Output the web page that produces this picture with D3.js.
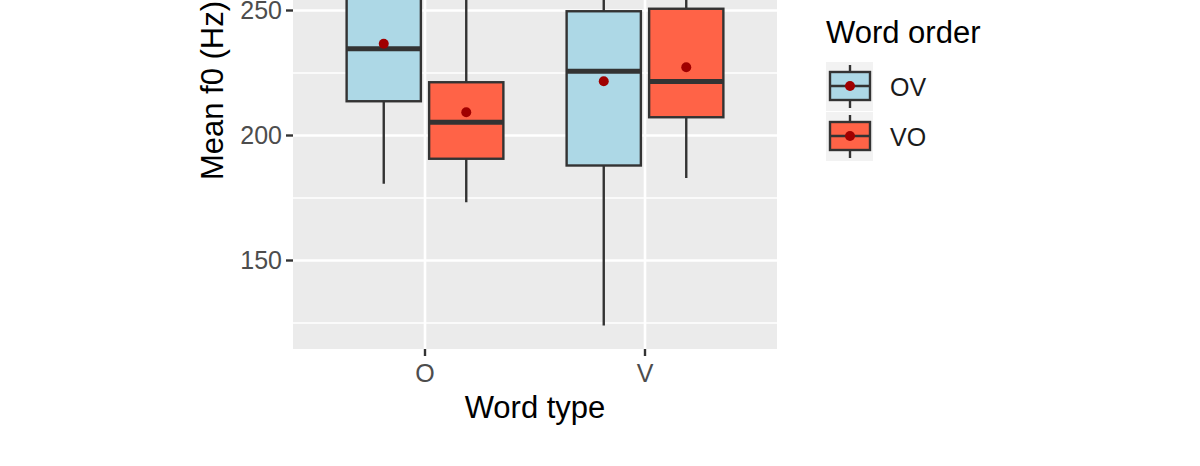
<!DOCTYPE html>
<html>
<head>
<meta charset="utf-8">
<script src="https://cdn.jsdelivr.net/npm/d3@7"></script>
<style>
  body { margin: 0; background: #ffffff; }
  text { font-family: "Liberation Sans", Arial, sans-serif; }
</style>
</head>
<body>
<div id="chart"></div>
<script>
// Data (boxes in order O-OV, O-VO, V-OV, V-VO)
var wordTypes = ["O", "V"];
var wordOrders = ["OV", "VO"];
var boxType = ["O", "O", "V", "V"];
var boxOrder = ["OV", "VO", "OV", "VO"];
var whiskerLow = [180.7, 173.3, 124, 183];
var q1 = [213.7, 190.7, 188, 207.3];
var median = [234.7, 205.3, 225.7, 221.6];
var q3 = [262, 221.3, 249.7, 250.7];
var whiskerHigh = [312, 262, 298, 290];
var means = [236.7, 209.3, 221.7, 227.3];
var yTicks = [150, 200, 250, 300];
var yMinor = [125, 175, 225, 275];

var boxes = boxType.map(function(t, i) {
  return {
    type: t, order: boxOrder[i],
    lo: whiskerLow[i], q1: q1[i], med: median[i], q3: q3[i], hi: whiskerHigh[i],
    mean: means[i]
  };
});

// Establish svg width and height
var svgWidth = 1200;
var svgHeight = 466;

// panel sits partly above the visible area (the picture is cropped)
var margin = { top: -168, left: 293 };
var width = 484;
var height = 517;

var fills = { OV: "#ADD8E6", VO: "#FF6347" };
var outline = "#333333";

var svg = d3.select("#chart")
  .append("svg")
  .attr("width", svgWidth)
  .attr("height", svgHeight);

svg.append("rect")
  .attr("width", svgWidth)
  .attr("height", svgHeight)
  .attr("fill", "#ffffff");

var chartGroup = svg.append("g")
  .attr("transform", `translate(${margin.left}, ${margin.top})`);

// scales
var allVals = whiskerLow.concat(whiskerHigh);
var ext = d3.extent(allVals);
var pad = (ext[1] - ext[0]) * 0.05;
var yScale = d3.scaleLinear()
  .domain([ext[0] - pad, ext[1] + pad])
  .range([height, 0]);

var xScale = d3.scalePoint()
  .domain(wordTypes)
  .range([0, width])
  .padding(0.6);

var step = xScale.step();
var dodge = d3.scaleBand()
  .domain(wordOrders)
  .range([-0.375 * step, 0.375 * step]);
var boxW = dodge.bandwidth() * 0.9;

// panel background
chartGroup.append("rect")
  .attr("width", width)
  .attr("height", height)
  .attr("fill", "#EBEBEB");

// minor gridlines
chartGroup.selectAll(".minor")
  .data(yMinor)
  .enter()
  .append("line")
  .attr("x1", 0)
  .attr("x2", width)
  .attr("y1", d => yScale(d))
  .attr("y2", d => yScale(d))
  .attr("stroke", "#ffffff")
  .attr("stroke-width", 1.3);

// major gridlines
chartGroup.selectAll(".major")
  .data(yTicks)
  .enter()
  .append("line")
  .attr("x1", 0)
  .attr("x2", width)
  .attr("y1", d => yScale(d))
  .attr("y2", d => yScale(d))
  .attr("stroke", "#ffffff")
  .attr("stroke-width", 2.6);

chartGroup.selectAll(".vgrid")
  .data(wordTypes)
  .enter()
  .append("line")
  .attr("x1", d => xScale(d))
  .attr("x2", d => xScale(d))
  .attr("y1", 0)
  .attr("y2", height)
  .attr("stroke", "#ffffff")
  .attr("stroke-width", 2.6);

// boxes
var boxG = chartGroup.selectAll(".box")
  .data(boxes)
  .enter()
  .append("g")
  .attr("transform", d => `translate(${xScale(d.type) + dodge(d.order) + dodge.bandwidth() / 2}, 0)`);

boxG.append("line")
  .attr("y1", d => yScale(d.hi))
  .attr("y2", d => yScale(d.q3))
  .attr("stroke", outline)
  .attr("stroke-width", 2.4);

boxG.append("line")
  .attr("y1", d => yScale(d.q1))
  .attr("y2", d => yScale(d.lo))
  .attr("stroke", outline)
  .attr("stroke-width", 2.4);

boxG.append("rect")
  .attr("x", -boxW / 2)
  .attr("width", boxW)
  .attr("y", d => yScale(d.q3))
  .attr("height", d => yScale(d.q1) - yScale(d.q3))
  .attr("fill", d => fills[d.order])
  .attr("stroke", outline)
  .attr("stroke-width", 2.4);

boxG.append("line")
  .attr("x1", -boxW / 2)
  .attr("x2", boxW / 2)
  .attr("y1", d => yScale(d.med))
  .attr("y2", d => yScale(d.med))
  .attr("stroke", outline)
  .attr("stroke-width", 5);

boxG.append("circle")
  .attr("cy", d => yScale(d.mean))
  .attr("r", 5)
  .attr("fill", "#A00000");

// y axis ticks and labels
var yAxisG = chartGroup.selectAll(".ytick")
  .data(yTicks)
  .enter()
  .append("g")
  .attr("transform", d => `translate(0, ${yScale(d)})`);

yAxisG.append("line")
  .attr("x1", -7)
  .attr("x2", 0)
  .attr("stroke", outline)
  .attr("stroke-width", 2.4);

yAxisG.append("text")
  .attr("x", -11)
  .attr("dy", "0.35em")
  .attr("text-anchor", "end")
  .attr("font-size", 25)
  .attr("fill", "#4D4D4D")
  .text(d => d);

// x axis ticks and labels
var xAxisG = chartGroup.selectAll(".xtick")
  .data(wordTypes)
  .enter()
  .append("g")
  .attr("transform", d => `translate(${xScale(d)}, ${height})`);

xAxisG.append("line")
  .attr("y1", 0)
  .attr("y2", 7)
  .attr("stroke", outline)
  .attr("stroke-width", 2.4);

xAxisG.append("text")
  .attr("y", 33)
  .attr("text-anchor", "middle")
  .attr("font-size", 25)
  .attr("fill", "#4D4D4D")
  .text(d => d);

// axis titles
chartGroup.append("text")
  .attr("x", width / 2)
  .attr("y", height + 69)
  .attr("text-anchor", "middle")
  .attr("font-size", 31)
  .attr("fill", "#000000")
  .text("Word type");

chartGroup.append("text")
  .attr("transform", "rotate(-90)")
  .attr("x", -height / 2)
  .attr("y", -70)
  .attr("text-anchor", "middle")
  .attr("font-size", 31)
  .attr("fill", "#000000")
  .text("Mean f0 (Hz)");

// legend
var legend = svg.append("g")
  .attr("transform", "translate(826, 0)");

legend.append("text")
  .attr("x", 0)
  .attr("y", 43)
  .attr("font-size", 31)
  .attr("fill", "#000000")
  .text("Word order");

var keys = legend.selectAll(".key")
  .data(wordOrders)
  .enter()
  .append("g")
  .attr("transform", (d, i) => `translate(0, ${62 + i * 50})`);

keys.append("rect")
  .attr("width", 47)
  .attr("height", 49)
  .attr("fill", "#F2F2F2");

keys.append("line")
  .attr("x1", 24)
  .attr("x2", 24)
  .attr("y1", 3)
  .attr("y2", 46)
  .attr("stroke", outline)
  .attr("stroke-width", 2.4);

keys.append("rect")
  .attr("x", 4)
  .attr("y", 10)
  .attr("width", 40)
  .attr("height", 28)
  .attr("fill", d => fills[d])
  .attr("stroke", outline)
  .attr("stroke-width", 2.4);

keys.append("line")
  .attr("x1", 4)
  .attr("x2", 44)
  .attr("y1", 24)
  .attr("y2", 24)
  .attr("stroke", outline)
  .attr("stroke-width", 2.4);

keys.append("circle")
  .attr("cx", 24)
  .attr("cy", 24)
  .attr("r", 5)
  .attr("fill", "#A00000");

keys.append("text")
  .attr("x", 64)
  .attr("y", 25)
  .attr("dy", "0.35em")
  .attr("font-size", 25)
  .attr("fill", "#1A1A1A")
  .text(d => d);
</script>
</body>
</html>
